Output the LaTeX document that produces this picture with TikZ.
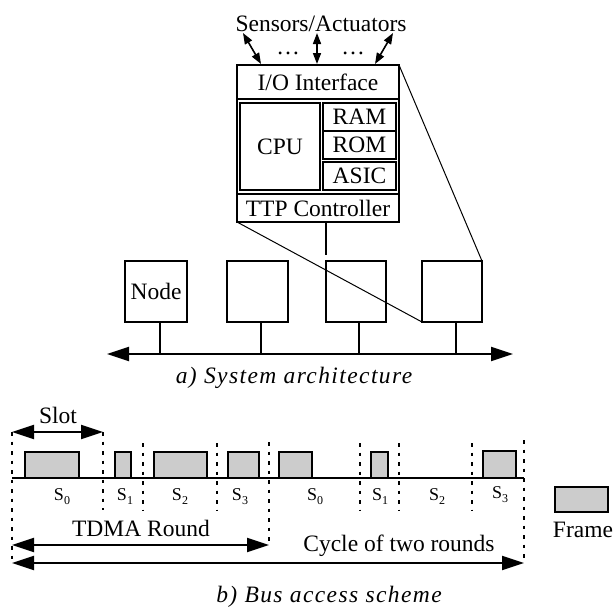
\documentclass[tikz,border=0pt]{standalone}
\usepackage{fontspec}
\setmainfont{Liberation Serif}
\newfontfamily\capfont[LetterSpace=6]{Liberation Serif}
\usetikzlibrary{arrows.meta}
\begin{document}
\begin{tikzpicture}[x=1pt,y=-1pt,
  font=\fontsize{23.5}{26}\selectfont,
  box/.style={draw,line width=1.3pt,inner sep=0pt,outer sep=0pt},
  thickbox/.style={draw,line width=2.4pt,inner sep=0pt,outer sep=0pt},
  framebox/.style={draw,line width=1.3pt,fill=gray!40,inner sep=0pt,outer sep=0pt},
  dotline/.style={line width=1.9pt,dash pattern=on 3.5pt off 6pt},
  bigarr/.style={line width=2.2pt,{Triangle[length=22pt,width=14pt]}-{Triangle[length=22pt,width=14pt]}},
  smallarr/.style={line width=1.6pt,{Triangle[length=11pt,width=8pt]}-{Triangle[length=11pt,width=8pt]}},
  slabel/.style={font=\fontsize{18}{20}\selectfont,inner sep=0pt},
  captext/.style={font=\fontsize{23.5}{26}\selectfont\capfont\itshape}
]
\useasboundingbox (0,0) rectangle (615,608);
\newcommand{\Sub}[1]{S\raisebox{-4pt}{\fontsize{12}{12}\selectfont #1}}

% ---------- a) system architecture ----------
\node[anchor=base] (sens) at (321,31) {Sensors/Actuators};
\node[anchor=base,inner sep=0pt] (dots1) at (288,54) {\dots};
\node[anchor=base,inner sep=0pt] (dots2) at (353,54) {\dots};

\node[thickbox,minimum width=162,minimum height=157] (outer) at (318,143.5) {};
\node[box,minimum width=162,minimum height=34] (io) at (318,82) {I/O Interface};
\node[box,minimum width=80,minimum height=87] (cpu) at (280,146.5) {CPU};
\node[box,minimum width=73,minimum height=28] (ram) at (359.5,117) {RAM};
\node[box,minimum width=73,minimum height=28] (rom) at (359.5,145) {ROM};
\node[box,minimum width=73,minimum height=28] (asic) at (359.5,176) {ASIC};
\node[box,minimum width=162,minimum height=28] (ttp) at (318,208) {TTP Controller};

\coordinate (a1) at (261,64); \coordinate (a1e) at (243,33);
\coordinate (a2) at (317,64); \coordinate (a2e) at (317,33);
\coordinate (a3) at (375,64); \coordinate (a3e) at (393,33);
\draw[smallarr] (a1) -- (a1e);
\draw[smallarr] (a2) -- (a2e);
\draw[smallarr] (a3) -- (a3e);

\node[box,minimum width=62,minimum height=61] (n1) at (156,291.5) {Node};
\node[box,minimum width=61,minimum height=61] (n2) at (257.5,291.5) {};
\node[box,minimum width=60,minimum height=61] (n3) at (356,291.5) {};
\node[box,minimum width=60,minimum height=61] (n4) at (452,291.5) {};

\coordinate (busL) at (107,354);
\coordinate (busR) at (513,354);
\draw[bigarr] (busL) -- (busR);
\coordinate (b1) at (160,354); \coordinate (b2) at (261,354);
\coordinate (b3) at (359,354); \coordinate (b4) at (456,354);
\draw[line width=1.3pt] (n1.south -| b1) -- (b1);
\draw[line width=1.3pt] (n2.south -| b2) -- (b2);
\draw[line width=1.3pt] (n3.south -| b3) -- (b3);
\draw[line width=1.3pt] (n4.south -| b4) -- (b4);

\coordinate (tb) at (326,255);
\draw[line width=2.4pt] (ttp.south -| tb) -- (tb);
\draw[line width=1pt] (outer.south west) -- (n4.south west);
\draw[line width=1pt] (outer.north east) -- (n4.north east);

\node[captext] (capa) at (294,378) {a) System architecture};

% ---------- b) bus access scheme ----------
\coordinate (L0) at (12,478);
\coordinate (L1) at (524,478);

\node[framebox,minimum width=54,minimum height=26,anchor=south west] (f0) at (25,478) {};
\node[framebox,minimum width=16,minimum height=26,anchor=south west] (f1) at (115,478) {};
\node[framebox,minimum width=53,minimum height=26,anchor=south west] (f2) at (154,478) {};
\node[framebox,minimum width=31,minimum height=26,anchor=south west] (f3) at (228,478) {};
\node[framebox,minimum width=33,minimum height=26,anchor=south west] (f4) at (279,478) {};
\node[framebox,minimum width=17,minimum height=26,anchor=south west] (f5) at (371,478) {};
\node[framebox,minimum width=33,minimum height=27,anchor=south west] (f7) at (483,478) {};
\draw[line width=2.6pt] (L0) -- (L1);

% dotted slot boundaries
\draw[dotline] (12,432) -- (12,563);
\draw[dotline] (103,432) -- (103,510);
\draw[dotline] (143,443) -- (143,510);
\draw[dotline] (217,443) -- (217,510);
\draw[dotline] (269,442) -- (269,545);
\draw[dotline] (360,443) -- (360,510);
\draw[dotline] (399,443) -- (399,510);
\draw[dotline] (472,443) -- (472,510);
\draw[dotline] (524,440) -- (524,563);

\node[slabel] (s0) at (62,497) {\Sub{0}};
\node[slabel] (s1) at (125,497) {\Sub{1}};
\node[slabel] (s2) at (180,497) {\Sub{2}};
\node[slabel] (s3) at (240,497) {\Sub{3}};
\node[slabel] (s4) at (315,497) {\Sub{0}};
\node[slabel] (s5) at (380,497) {\Sub{1}};
\node[slabel] (s6) at (437,497) {\Sub{2}};
\node[slabel] (s7) at (500,495) {\Sub{3}};

\node (slot) at (58,415) {Slot};
\coordinate (sl0) at (12,432); \coordinate (sl1) at (103,432);
\draw[bigarr] (sl0) -- (sl1);

\node (tdma) at (141,528) {TDMA Round};
\coordinate (td0) at (12,545); \coordinate (td1) at (269,545);
\draw[bigarr] (td0) -- (td1);

\node (cyc) at (399,546) {Cycle of two rounds};
\coordinate (cy0) at (12,563); \coordinate (cy1) at (524,563);
\draw[bigarr] (cy0) -- (cy1);

\node[framebox,minimum width=53,minimum height=25] (leg) at (581.5,499.5) {};
\node (legt) at (583,530) {Frame};

\node[captext] (capb) at (329,597) {b) Bus access scheme};
\end{tikzpicture}
\end{document}
